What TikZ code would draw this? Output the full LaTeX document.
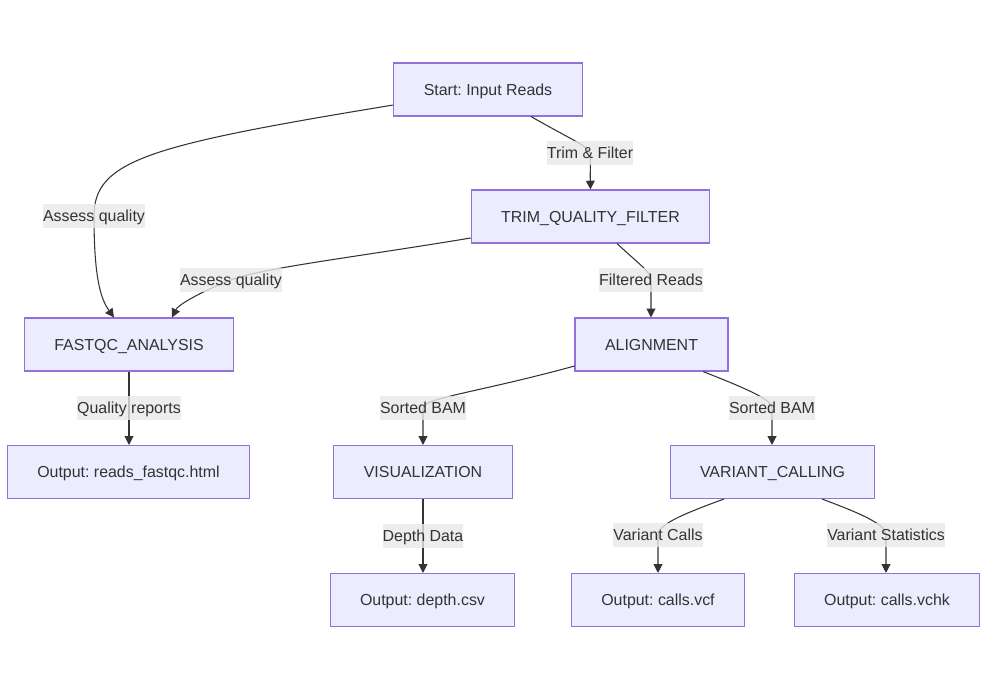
\documentclass[tikz,border=0pt]{standalone}
\usepackage{fontspec}
\setmainfont{Liberation Sans}
\usetikzlibrary{arrows.meta,calc}
\definecolor{boxfill}{HTML}{ECECFF}
\definecolor{boxline}{HTML}{9370DB}
\definecolor{edgecol}{HTML}{333333}
\definecolor{lblfill}{HTML}{E8E8E8}
\frenchspacing
\begin{document}
\begin{tikzpicture}[x=0.02cm,y=0.02cm,
		font=\fontsize{9.07pt}{11pt}\selectfont,
		stepbox/.style={draw=boxline,fill=boxfill,line width=0.6pt,text=edgecol,minimum height=1.06cm,inner xsep=0.6cm,inner ysep=0pt,text height=6.5pt,text depth=0pt},
		flow/.style={draw=edgecol,line width=0.6pt,-{Triangle[length=5pt,width=5pt]}},
		lbl/.style={fill=lblfill,fill opacity=0.8,text opacity=1,text=edgecol,inner xsep=0pt,inner ysep=3.5pt,text height=6.5pt,text depth=0pt}]
			\useasboundingbox (0,0) rectangle (988,-690);
			
			\node[stepbox] (start) at (488,-89.5) {Start: Input Reads};
			\node[stepbox] (trim) at (590.5,-216.5) {TRIM\_QUALITY\_FILTER};
			\node[stepbox] (fastqc) at (129,-344.5) {FASTQC\_ANALYSIS};
			\node[stepbox] (align) at (651.5,-344.5) {ALIGNMENT};
			\node[stepbox] (html) at (128.5,-472) {Output: reads\_fastqc.html};
			\node[stepbox] (vis) at (423,-472) {VISUALIZATION};
			\node[stepbox] (varcall) at (772.5,-472) {VARIANT\_CALLING};
			\node[stepbox] (depth) at (422.5,-600) {Output: depth.csv};
			\node[stepbox] (vcf) at (658,-600) {Output: calls.vcf};
			\node[stepbox] (vchk) at (887,-600) {Output: calls.vchk};
			
			\draw[flow] ($(start.south)+(43,0)$) .. controls (572,-140) and (588,-146) .. (590,-153) node[lbl] {Trim \& Filter} .. controls (591,-160) and (590,-168) .. (trim.north);
			\draw[flow] ($(start.west)+(0,-15.5)$) .. controls (150,-145) and (94,-160) .. (94,-216) node[lbl] {Assess quality} .. controls (94,-275) and (100,-298) .. ($(fastqc.north)+(-15,0)$);
			\draw[flow] ($(trim.west)+(0,-21.5)$) .. controls (350,-258) and (262,-268) .. (231,-280) node[lbl] {Assess quality} .. controls (200,-292) and (178,-305) .. ($(fastqc.north)+(43,0)$);
			\draw[flow] ($(trim.south)+(26.5,0)$) .. controls (640,-265) and (651,-272) .. (651,-280) node[lbl] {Filtered Reads} -- ($(align.north)+(-0.5,0)$);
			\draw[flow] (fastqc.south) -- node[lbl] {Quality reports} (fastqc.south |- html.north);
			\draw[flow] ($(align.west)+(0,-21.5)$) .. controls (480,-392) and (423,-398) .. (423,-408) node[lbl] {Sorted BAM} -- (vis.north);
			\draw[flow] ($(align.south)+(51.5,0)$) .. controls (750,-390) and (772,-400) .. (772,-408) node[lbl] {Sorted BAM} -- ($(varcall.north)+(-0.5,0)$);
			\draw[flow] (vis.south) -- node[lbl] {Depth Data} (vis.south |- depth.north);
			\draw[flow] ($(varcall.south)+(-48.5,0)$) .. controls (680,-515) and (658,-525) .. (658,-535) node[lbl] {Variant Calls} -- (vcf.north);
			\draw[flow] ($(varcall.south)+(49.5,0)$) .. controls (865,-515) and (886,-525) .. (886,-535) node[lbl] {Variant Statistics} -- ($(vchk.north)+(-1,0)$);
\end{tikzpicture}
\end{document}
